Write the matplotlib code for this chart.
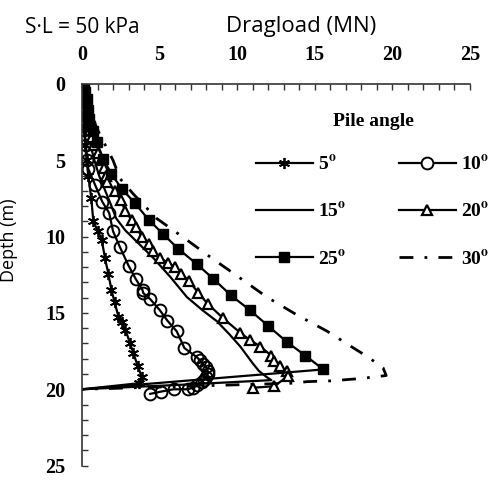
import matplotlib.pyplot as plt
from matplotlib.lines import Line2D
from matplotlib.ticker import MultipleLocator

# depth (m) vs dragload (MN), one pair per pile angle
depth_5 = [0, 1, 2, 3, 4, 5, 6, 7.5, 9.0, 9.6, 10.2, 11.4, 12.45, 13.5, 14.3, 15.25,
           15.6, 16.1, 17.0, 17.6, 18.5, 19.2, 19.6, 20.0]
load_5 = [0, 0.05, 0.1, 0.15, 0.2, 0.3, 0.4, 0.6, 0.73, 1.0, 1.27, 1.48, 1.7, 1.9, 2.1, 2.35,
          2.55, 2.8, 3.1, 3.3, 3.6, 3.85, 3.7, 0]

depth_10 = [0, 1, 2, 3, 4, 5, 5.55, 6.6, 7.7, 8.45, 9.65, 10.7, 11.9, 12.75, 13.5, 13.7,
            14.1, 14.8, 15.5, 16.2, 17.3, 17.9, 18.1, 18.35, 18.55, 18.8, 19.0, 19.2, 19.4,
            19.55, 19.75, 19.9, 20.0, 20.0, 20.15, 20.3]
load_10 = [0, 0.05, 0.1, 0.15, 0.25, 0.35, 0.4, 0.84, 1.3, 1.75, 2.0, 2.45, 3.0, 3.45, 3.9, 3.95,
           4.4, 5.0, 5.5, 6.1, 6.6, 7.4, 7.6, 7.8, 8.0, 8.1, 8.1, 8.0, 7.85,
           7.7, 7.4, 7.15, 6.8, 5.9, 5.1, 4.4]

depth_15 = [0, 1, 2, 3, 4, 5, 6, 7, 8, 8.8, 9.6, 10.3, 11.4, 12.65, 13.95, 14.85, 15.55,
            16.4, 17.2, 18.3, 18.8, 19.2, 19.4, 19.7, 20.0]
load_15 = [0, 0.1, 0.2, 0.35, 0.55, 0.8, 1.1, 1.5, 1.9, 2.2, 2.8, 3.5, 4.6, 5.7, 6.75, 7.8, 8.7,
           9.5, 10.2, 11.0, 11.4, 11.9, 12.2, 6.5, 0]

depth_20 = [0, 0.5, 1, 1.5, 2, 2.5, 3, 3.5, 4, 4.5, 5, 5.5, 6.0, 6.4, 7.0, 7.6, 8.35, 8.9, 9.4,
            10.0, 10.5, 10.95, 11.4, 11.7, 12.0, 12.45, 12.9, 13.7, 14.4, 15.35, 16.3, 16.75,
            17.2, 17.8, 18.15, 18.5, 18.8, 19.1, 19.8, 19.9]
load_20 = [0, 0.05, 0.1, 0.2, 0.3, 0.4, 0.5, 0.65, 0.8, 1.0, 1.2, 1.4, 1.55, 1.6, 2.1, 2.5, 2.8,
           3.2, 3.5, 3.85, 4.3, 4.6, 5.0, 5.55, 6.0, 6.4, 6.9, 7.5, 8.1, 9.1, 10.2, 10.8,
           11.5, 12.2, 12.4, 12.75, 13.2, 13.3, 12.4, 11.0]

depth_25 = [0, 0.5, 1.0, 1.7, 2.3, 2.75, 3.1, 3.8, 4.9, 5.9, 6.85, 7.8, 8.9, 9.85, 10.8, 11.8,
            12.75, 13.85, 14.8, 15.85, 16.9, 17.8, 18.7, 20.0]
load_25 = [0.1, 0.2, 0.3, 0.4, 0.45, 0.5, 0.73, 0.95, 1.37, 1.9, 2.55, 3.4, 4.3, 5.25, 6.2, 7.4,
           8.45, 9.6, 10.8, 12.0, 13.2, 14.4, 15.55, 0]

depth_30 = [0, 1, 2, 3, 4, 5, 6.2, 7.2, 8.8, 10.1, 11.4, 12.65, 13.95, 15.1, 16.2, 17.3, 17.9,
            18.6, 19.1, 19.3, 19.45, 19.5, 19.6, 20.0]
load_30 = [0, 0.3, 0.6, 1.0, 1.5, 2.0, 2.45, 3.3, 4.8, 6.6, 8.35, 10.1, 11.9, 13.8, 15.8, 17.5, 18.45,
           19.4, 19.6, 17.9, 16.0, 14.5, 13.6, 0]

labels = [r'5$^{\mathrm{o}}$', r'10$^{\mathrm{o}}$', r'15$^{\mathrm{o}}$',
          r'20$^{\mathrm{o}}$', r'25$^{\mathrm{o}}$', r'30$^{\mathrm{o}}$']

plt.rcParams['font.family'] = 'Liberation Serif'
plt.rcParams['font.weight'] = 'bold'
plt.rcParams['mathtext.fontset'] = 'stix'

fig = plt.figure(figsize=(5, 4.8), dpi=100)
ax = fig.add_axes([0.164, 0.03, 0.776, 0.795])

lw = 1.6
star = (6, 2, 0)
# line first, markers separately (tail point to the axis has no marker)
ax.plot(load_5, depth_5, color='k', lw=lw)
ax.plot(load_5[:-1], depth_5[:-1], ls='none', marker=star, ms=8, mec='k', mew=1.3)

ax.plot(load_10, depth_10, color='k', lw=lw)
ax.plot(load_10, depth_10, ls='none', marker='o', ms=8.5, mfc='none', mec='k', mew=1.4)

ax.plot(load_15, depth_15, color='k', lw=lw)

ax.plot(load_20, depth_20, color='k', lw=lw)
ax.plot(load_20, depth_20, ls='none', marker='^', ms=7.5, mfc='white', mec='k', mew=1.6)

ax.plot(load_25, depth_25, color='k', lw=lw)
ax.plot(load_25[:-1], depth_25[:-1], ls='none', marker='s', ms=7.5, mfc='k', mec='k')

ax.plot(load_30, depth_30, color='k', lw=2, ls=(0, (5, 4, 1, 4)))

ax.set_xlim(0, 25)
ax.set_ylim(25, 0)
ax.xaxis.tick_top()
ax.xaxis.set_label_position('top')
ax.xaxis.set_major_locator(MultipleLocator(5))
ax.xaxis.set_minor_locator(MultipleLocator(1))
ax.yaxis.set_major_locator(MultipleLocator(5))
ax.yaxis.set_minor_locator(MultipleLocator(1))
ax.tick_params(which='both', direction='in', length=4, width=1, color='#333333')
ax.tick_params(axis='both', which='major', labelsize=14.5)
ax.tick_params(axis='x', which='major', pad=14)
ax.tick_params(axis='y', which='major', pad=12)
for s in ['right', 'bottom']:
    ax.spines[s].set_visible(False)
for s in ['left', 'top']:
    ax.spines[s].set_color('#333333')
    ax.spines[s].set_linewidth(1.2)

ax.set_xlabel('Dragload (MN)', fontfamily='Open Sans', fontweight='normal', fontsize=16)
ax.xaxis.set_label_coords(0.565, 1.137)
ax.set_ylabel('Depth (m)', fontfamily='Open Sans', fontweight='normal', fontsize=13)
ax.yaxis.set_label_coords(-0.165, 0.59)
fig.text(0.05, 0.943, 'S\u00b7L = 50 kPa', fontfamily='Open Sans', fontweight='normal',
         fontsize=15, va='center')

handles = [
    Line2D([], [], color='k', lw=lw, marker=star, ms=8, mew=1.3),
    Line2D([], [], color='k', lw=lw, marker='o', ms=8.5, mfc='white', mew=1.4),
    Line2D([], [], color='k', lw=lw),
    Line2D([], [], color='k', lw=lw, marker='^', ms=7.5, mfc='white', mew=1.6),
    Line2D([], [], color='k', lw=lw, marker='s', ms=7.5, mfc='k'),
    Line2D([], [], color='k', lw=2, ls=(0, (5, 4, 1, 4))),
]
order = [0, 2, 4, 1, 3, 5]
leg = ax.legend([handles[i] for i in order], [labels[i] for i in order],
                ncol=2, frameon=False, loc='upper center', bbox_to_anchor=(0.75, 0.95),
                title='Pile angle', handlelength=2.9, handletextpad=0.3,
                columnspacing=2.7, labelspacing=1.45, borderpad=0,
                prop={'family': 'Liberation Serif', 'weight': 'bold', 'size': 14})
leg.get_title().set_fontfamily('Liberation Serif')
leg.get_title().set_fontweight('bold')
leg.get_title().set_fontsize(14)
leg._legend_box.sep = 18

fig.savefig('out.png', dpi=100)
